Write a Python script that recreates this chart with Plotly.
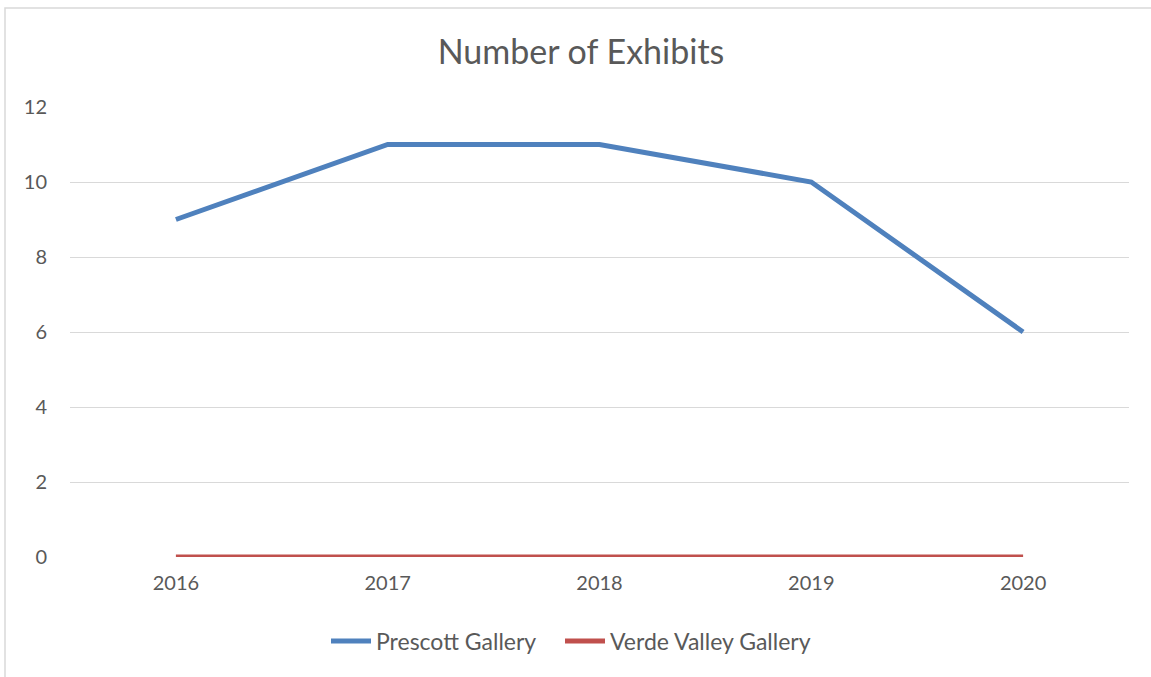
import plotly.graph_objects as go

years = ["2016", "2017", "2018", "2019", "2020"]
prescott = [9, 11, 11, 10, 6]
verde_valley = [0, 0, 0, 0, 0]
y_ticks = [0, 2, 4, 6, 8, 10, 12]

FONT = "Lato, Carlito, Calibri, sans-serif"
TXT = "#595959"

fig = go.Figure()
fig.add_trace(go.Scatter(x=years, y=prescott, mode="lines", name="Prescott Gallery",
                         line=dict(color="#4F81BD", width=5), legend="legend"))
fig.add_trace(go.Scatter(x=years, y=verde_valley, mode="lines", name="Verde Valley Gallery",
                         line=dict(color="#C0504D", width=5), legend="legend2"))

W, H = 1151, 677
L, R, T, B = 70, 22, 107, 120
pw, ph = W - L - R, H - T - B

def px_x(x):
    return (x - L) / pw

def px_y(y):
    return (H - B - y) / ph

fig.add_shape(type="rect", xref="paper", yref="paper",
              x0=px_x(5), x1=px_x(1165), y0=px_y(690), y1=px_y(8),
              line=dict(color="#D9D9D9", width=1.5), fillcolor="rgba(0,0,0,0)", layer="below")

legend_common = dict(orientation="h", xanchor="left", y=px_y(641), yanchor="middle",
                     font=dict(size=23, color=TXT, family=FONT), itemwidth=40,
                     bgcolor="rgba(0,0,0,0)")

fig.update_layout(
    width=W, height=H,
    margin=dict(l=L, r=R, t=T, b=B),
    paper_bgcolor="white", plot_bgcolor="white",
    font=dict(family=FONT, color=TXT, size=20),
    title=dict(text="Number of Exhibits", x=581 / W, xanchor="center", xref="container",
               y=1 - 52 / H, yanchor="middle", yref="container",
               font=dict(size=34, color=TXT, family=FONT)),
    showlegend=True,
    legend=dict(x=px_x(326), **legend_common),
    legend2=dict(x=px_x(560), **legend_common),
    xaxis=dict(type="category", range=[-0.5, 4.5], showgrid=False, zeroline=False,
               showline=False, ticks="", tickfont=dict(size=20, color=TXT),
               ticklabelstandoff=12),
    yaxis=dict(range=[0, 12], tickvals=y_ticks, showgrid=True, gridcolor="#D9D9D9",
               gridwidth=1.3, zeroline=False, showline=False, ticks="",
               tickfont=dict(size=20, color=TXT), ticklabelstandoff=22),
)

fig.write_html("out.html", config={"displayModeBar": False},
               post_script="document.body.style.margin='0';")
